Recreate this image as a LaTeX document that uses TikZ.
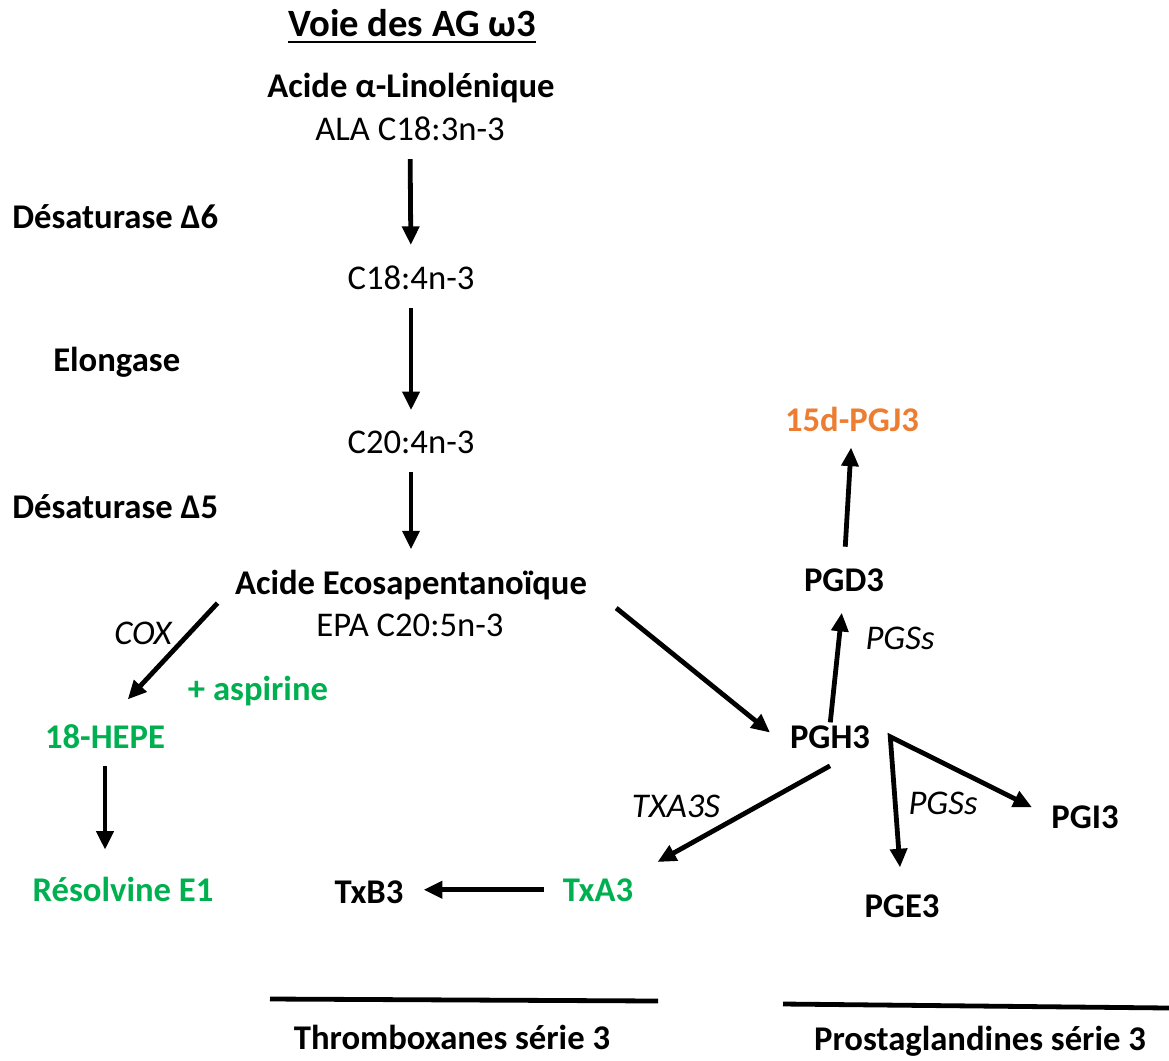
\documentclass[tikz,border=0pt]{standalone}
\usepackage{fontspec}
\setmainfont{Carlito}
\usetikzlibrary{arrows.meta, positioning}
\definecolor{vertomega}{RGB}{0,176,80}
\definecolor{orangepg}{RGB}{237,125,49}

\begin{document}
\begin{tikzpicture}[
  x=0.75pt, y=-0.75pt,
  >={Triangle[length=14pt, width=12.5pt]},
  font=\fontsize{26}{32}\selectfont,
  txt/.style={inner sep=0pt, anchor=base},
  mol/.style={txt, font=\fontsize{26}{32}\selectfont\bfseries},
  enz/.style={txt, font=\fontsize{26}{32}\selectfont\itshape},
  arrow/.style={->, line width=3.6pt, shorten <=14pt, shorten >=15pt},
  rule/.style={line width=3.6pt}
]
\useasboundingbox (0,0) rectangle (1169,1060);

\node[mol, font=\fontsize{29}{34}\selectfont\bfseries] (titre) at (412,36) {Voie des AG ω3};
\draw[line width=1.6pt] ([yshift=-4.5pt]titre.base west) -- ([yshift=-4.5pt]titre.base east);

% voie centrale
\node[mol] (ala) at (411,97) {Acide α-Linolénique};
\node[txt] (alaf) at (410,140) {ALA C18:3n-3};
\node[txt] (c184) at (411,289) {C18:4n-3};
\node[txt] (c204) at (411,453) {C20:4n-3};
\node[mol] (epa) at (411,594) {Acide Ecosapentanoïque};
\node[txt] (epaf) at (410,636) {EPA C20:5n-3};

\node[mol, anchor=base west] (d6) at (12,228) {Désaturase Δ6};
\node[mol, anchor=base west] (elong) at (53,371) {Elongase};
\node[mol, anchor=base west] (d5) at (12,518) {Désaturase Δ5};

% branche resolvines
\node[enz] (cox) at (143,644) {COX};
\node[mol, text=vertomega] (aspi) at (258,700) {+ aspirine};
\node[mol, text=vertomega] (hepe) at (105,748) {18-HEPE};
\node[mol, text=vertomega] (res) at (123,901) {Résolvine E1};

% thromboxanes
\node[mol] (txb3) at (369,903) {TxB3};
\node[mol, text=vertomega] (txa3) at (598,901) {TxA3};
\node[enz] (txas) at (676,817) {TXA3S};

% prostaglandines
\node[mol] (pgh3) at (830,748) {PGH3};
\node[mol] (pgd3) at (844,591) {PGD3};
\node[mol, text=orangepg] (pgj3) at (852,431) {15d-PGJ3};
\node[enz] (pgsa) at (900,649) {PGSs};
\node[enz] (pgsb) at (943,814) {PGSs};
\node[mol] (pge3) at (902,917) {PGE3};
\node[mol] (pgi3) at (1085,828) {PGI3};

\node[mol] (thrombo) at (452,1049) {Thromboxanes série 3};
\node[mol] (prosta) at (980,1050) {Prostaglandines série 3};

\draw[arrow] (alaf.south) -- (c184.north);
\draw[arrow] (c184.south) -- (c204.north);
\draw[arrow] (c204.south) -- (epa.north);

\draw[arrow, shorten <=19pt, shorten >=25pt] (epa.west) -- (hepe.north);
\draw[arrow, shorten <=13pt, shorten >=20pt] (hepe.south) -- (hepe.south |- res.north);

\draw[arrow, shorten <=28pt, shorten >=19pt] (epa.east) -- (pgh3.south west);
\draw[arrow, shorten <=0pt, shorten >=0pt] ([yshift=-13pt]pgh3.south) -- ([shift={(24,-16)}]txa3.north east);
\draw[arrow] (txa3.west) -- (txa3.west -| txb3.east);

\draw[arrow, shorten <=2pt, shorten >=16pt] (pgh3.north) -- (pgd3.south);
\draw[arrow, shorten <=16pt, shorten >=12pt] (pgd3.north) -- (pgj3.south);
\draw[arrow, <->, shorten <=20pt, shorten >=16pt] (pge3.north) -- ([xshift=15pt]pgh3.east) -- (pgi3.west);

\draw[rule] (270,999) -- (658,1001);
\draw[rule] (783,1004) -- (1169,1008);
\end{tikzpicture}
\end{document}
